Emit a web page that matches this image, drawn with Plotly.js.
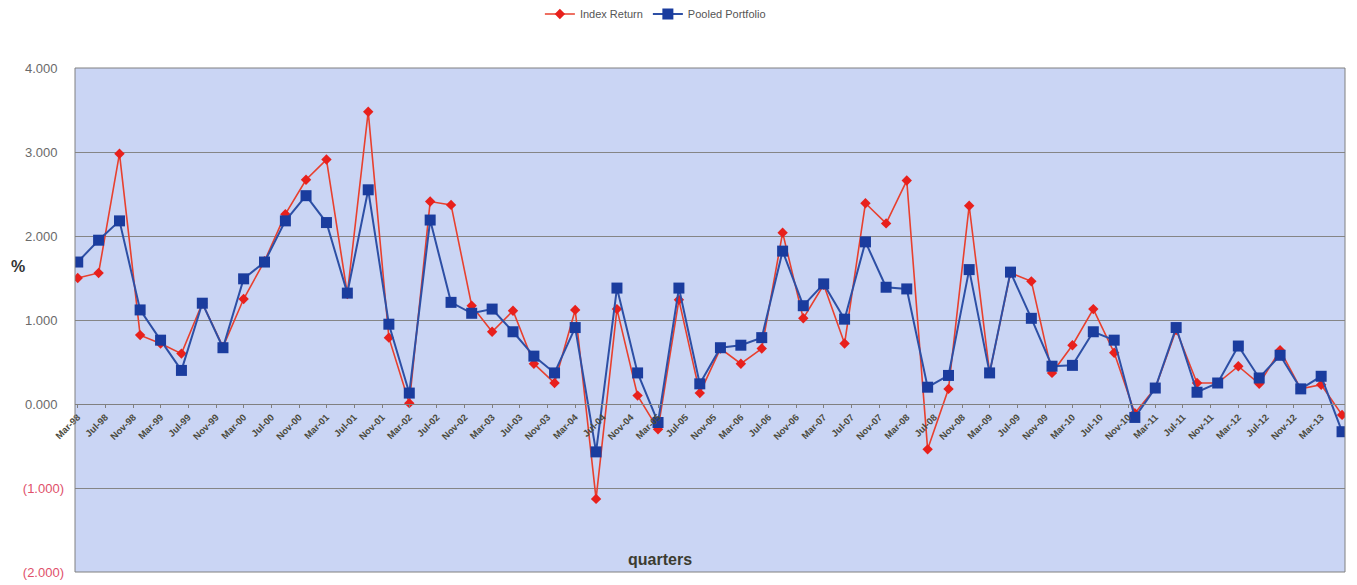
<!DOCTYPE html>
<html>
<head>
<meta charset="utf-8">
<script src="https://cdn.plot.ly/plotly-3.0.1.min.js"></script>
<style>html,body{margin:0;padding:0;background:#fff;}#chart{width:1357px;height:585px;}</style>
</head>
<body>
<div id="chart"></div>
<script>
const quarters = [
 '1998-03-01','1998-06-01','1998-09-01','1998-12-01',
 '1999-03-01','1999-06-01','1999-09-01','1999-12-01',
 '2000-03-01','2000-06-01','2000-09-01','2000-12-01',
 '2001-03-01','2001-06-01','2001-09-01','2001-12-01',
 '2002-03-01','2002-06-01','2002-09-01','2002-12-01',
 '2003-03-01','2003-06-01','2003-09-01','2003-12-01',
 '2004-03-01','2004-06-01','2004-09-01','2004-12-01',
 '2005-03-01','2005-06-01','2005-09-01','2005-12-01',
 '2006-03-01','2006-06-01','2006-09-01','2006-12-01',
 '2007-03-01','2007-06-01','2007-09-01','2007-12-01',
 '2008-03-01','2008-06-01','2008-09-01','2008-12-01',
 '2009-03-01','2009-06-01','2009-09-01','2009-12-01',
 '2010-03-01','2010-06-01','2010-09-01','2010-12-01',
 '2011-03-01','2011-06-01','2011-09-01','2011-12-01',
 '2012-03-01','2012-06-01','2012-09-01','2012-12-01',
 '2013-03-01','2013-06-01'
];
const indexReturn = [
 1.50, 1.56, 2.98, 0.82, 0.72, 0.60, 1.20, 0.68, 1.25, 1.70,
 2.26, 2.67, 2.91, 1.31, 3.48, 0.79, 0.01, 2.41, 2.37, 1.17,
 0.86, 1.11, 0.48, 0.25, 1.12, -1.13, 1.13, 0.10, -0.30, 1.24,
 0.13, 0.66, 0.48, 0.66, 2.04, 1.02, 1.42, 0.72, 2.39, 2.15,
 2.66, -0.54, 0.18, 2.36, 0.37, 1.56, 1.46, 0.37, 0.70, 1.13,
 0.61, -0.11, 0.19, 0.88, 0.25, 0.25, 0.45, 0.24, 0.64, 0.18,
 0.23, -0.13
];
const pooledPortfolio = [
 1.69, 1.95, 2.18, 1.12, 0.76, 0.40, 1.20, 0.67, 1.49, 1.69,
 2.18, 2.48, 2.16, 1.32, 2.55, 0.95, 0.13, 2.19, 1.21, 1.08,
 1.13, 0.86, 0.57, 0.37, 0.91, -0.57, 1.38, 0.37, -0.22, 1.38,
 0.24, 0.67, 0.70, 0.79, 1.82, 1.17, 1.43, 1.01, 1.93, 1.39,
 1.37, 0.20, 0.34, 1.60, 0.37, 1.57, 1.02, 0.45, 0.46, 0.86,
 0.76, -0.16, 0.19, 0.91, 0.14, 0.25, 0.69, 0.31, 0.58, 0.18,
 0.33, -0.33
];
const yTickVals = [4, 3, 2, 1, 0, -1, -2];
const yTickText = ['4.000', '3.000', '2.000', '1.000', '0.000', '(1.000)', '(2.000)'];

const posColor = '#6a6a6a', negColor = '#e0506a';
const yTickHtml = yTickVals.map((v, i) =>
  '<span style="color:' + (v < 0 ? negColor : posColor) + '">' + yTickText[i] + (v < 0 ? '' : '\u2002') + '</span>');

const traces = [
  {
    name: 'Index Return', x: quarters, y: indexReturn, type: 'scatter', mode: 'lines+markers',
    line: {color: '#e8402e', width: 1.6},
    marker: {symbol: 'diamond', size: 8, color: '#e8201c'}
  },
  {
    name: 'Pooled Portfolio', x: quarters, y: pooledPortfolio, type: 'scatter', mode: 'lines+markers',
    line: {color: '#2d4fa5', width: 2},
    marker: {symbol: 'square', size: 11, color: '#1a3c9e'}
  }
];

const layout = {
  width: 1357, height: 585,
  margin: {l: 75, r: 12, t: 68, b: 13, autoexpand: false},
  paper_bgcolor: '#ffffff',
  plot_bgcolor: '#cad5f4',
  font: {family: '"Liberation Sans", Arial, sans-serif', size: 13, color: '#555'},
  showlegend: true,
  legend: {
    orientation: 'h', x: 0.457, xanchor: 'center', y: 1.107, yanchor: 'middle',
    font: {size: 11, color: '#555'}, bgcolor: 'rgba(0,0,0,0)', itemwidth: 30
  },
  xaxis: {
    type: 'date',
    range: ['1998-02-17', '2013-06-14'],
    anchor: 'free', position: 1/3,
    tick0: '1998-03-01', dtick: 'M4', tickformat: '%b-%y',
    tickangle: -45,
    tickfont: {size: 9.5, color: '#4a4a3c', family: '"Liberation Sans", Arial, sans-serif', weight: 'bold'},
    showgrid: false, zeroline: false,
    showline: true, linecolor: '#808080', linewidth: 1,
    ticks: 'outside', ticklen: 3, tickcolor: '#808080'
  },
  yaxis: {
    range: [-2, 4],
    tickvals: yTickVals, ticktext: yTickHtml,
    tickfont: {size: 13},
    showgrid: true, gridcolor: '#858585', gridwidth: 1,
    zeroline: false, showline: false,
    ticks: '', ticklabelstandoff: 10
  },
  shapes: [{
    type: 'rect', xref: 'paper', yref: 'paper', x0: 0, x1: 1, y0: 0, y1: 1,
    line: {color: '#808080', width: 1}, layer: 'above'
  }],
  annotations: [
    {text: '<b>quarters</b>', xref: 'paper', yref: 'paper', x: 0.461, y: 0.024,
     xanchor: 'center', yanchor: 'middle', showarrow: false,
     font: {size: 16, color: '#3c3c30'}},
    {text: '<b>%</b>', xref: 'paper', yref: 'paper', x: -0.045, y: 0.606,
     xanchor: 'center', yanchor: 'middle', showarrow: false,
     font: {size: 16, color: '#333'}}
  ]
};

Plotly.newPlot('chart', traces, layout, {displayModeBar: false, staticPlot: true});
</script>
</body>
</html>
